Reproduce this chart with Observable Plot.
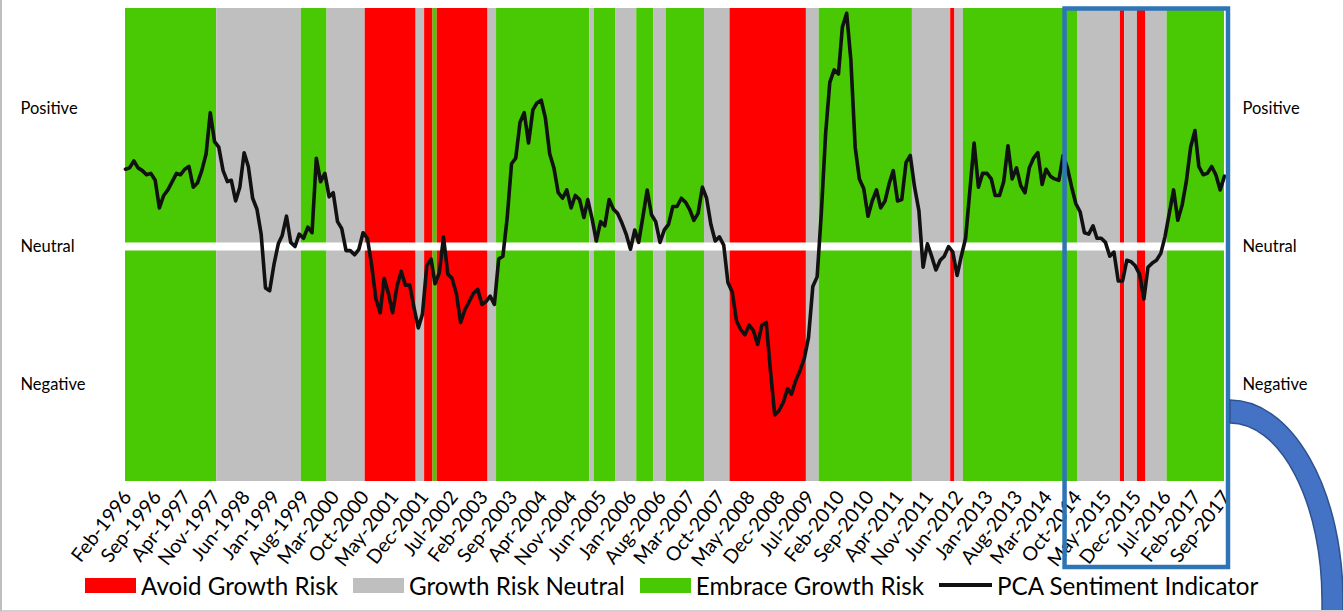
<!DOCTYPE html>
<html>
<head>
<meta charset="utf-8">
<script src="https://cdn.jsdelivr.net/npm/d3@7"></script>
<script src="https://cdn.jsdelivr.net/npm/@observablehq/plot@0.6"></script>
<style>
  html, body { margin: 0; padding: 0; background: #fff; }
  #wrap { position: relative; width: 1343px; height: 612px; overflow: hidden; font-family: Lato, "Open Sans", sans-serif; }
  #chart { position: absolute; left: 0; top: 0; }
  #legend { position: absolute; left: 85px; top: 571px; height: 28px; display: flex; align-items: center; gap: 15px; font-size: 24.2px; color: #000; white-space: nowrap; }
  .item { display: flex; align-items: center; gap: 5px; }
  #deco { position: absolute; left: 0; top: 0; pointer-events: none; }
  #border { position: absolute; left: 0; top: 0; width: 1343px; height: 612px; box-sizing: border-box; border-left: 2px solid #bfbfbf; border-bottom: 2px solid #d0d0d0; pointer-events: none; }
</style>
</head>
<body>
<div id="wrap">
  <div id="chart"></div>
  <div id="legend"></div>
  <svg id="deco" width="1343" height="612"></svg>
  <div id="border"></div>
</div>
<script>
// ---------- data ----------
const startMonth = "Feb-1996";

// PCA sentiment indicator, monthly from Feb-1996 to Sep-2017 (0 = neutral, +1 ≈ positive, -1 ≈ negative)
const sentiment = [
  0.56,0.57,0.62,0.57,0.55,0.52,0.53,0.48,0.28,0.37,
  0.41,0.47,0.53,0.52,0.56,0.58,0.43,0.46,0.55,0.67,
  0.97,0.76,0.72,0.55,0.47,0.48,0.33,0.43,0.68,0.58,
  0.35,0.27,0.09,-0.30,-0.32,-0.13,0.02,0.08,0.22,0.03,
  0.00,0.09,0.06,0.14,0.10,0.64,0.47,0.53,0.36,0.39,
  0.18,0.13,-0.03,-0.03,-0.06,-0.02,0.10,0.06,-0.13,-0.38,
  -0.48,-0.23,-0.34,-0.48,-0.29,-0.18,-0.28,-0.28,-0.44,-0.59,
  -0.49,-0.14,-0.09,-0.27,-0.19,0.07,-0.20,-0.23,-0.34,-0.55,
  -0.46,-0.40,-0.34,-0.31,-0.42,-0.40,-0.36,-0.42,-0.09,-0.07,
  0.21,0.60,0.64,0.90,0.97,0.75,0.99,1.04,1.06,0.93,
  0.67,0.57,0.39,0.35,0.41,0.28,0.37,0.34,0.21,0.34,
  0.20,0.04,0.18,0.15,0.34,0.27,0.24,0.17,0.09,-0.02,
  0.12,0.03,0.22,0.41,0.23,0.18,0.03,0.12,0.16,0.29,
  0.29,0.35,0.32,0.27,0.19,0.24,0.43,0.35,0.16,0.04,
  0.07,0.01,-0.26,-0.33,-0.54,-0.60,-0.64,-0.57,-0.61,-0.71,
  -0.57,-0.55,-0.90,-1.22,-1.19,-1.13,-1.03,-1.07,-0.97,-0.90,
  -0.81,-0.66,-0.29,-0.22,0.24,0.82,1.19,1.28,1.25,1.59,
  1.69,1.35,0.72,0.49,0.42,0.22,0.33,0.41,0.28,0.33,
  0.46,0.55,0.33,0.34,0.61,0.66,0.43,0.26,-0.15,0.02,
  -0.07,-0.17,-0.10,-0.07,0.00,-0.04,-0.21,-0.07,0.06,0.41,
  0.75,0.43,0.53,0.53,0.49,0.37,0.37,0.47,0.73,0.49,
  0.57,0.44,0.39,0.57,0.64,0.68,0.45,0.56,0.51,0.49,
  0.48,0.66,0.57,0.43,0.31,0.25,0.10,0.09,0.15,0.06,
  0.06,0.03,-0.07,-0.04,-0.25,-0.25,-0.10,-0.11,-0.14,-0.20,
  -0.38,-0.15,-0.12,-0.10,-0.05,0.07,0.24,0.41,0.19,0.30,
  0.47,0.72,0.84,0.58,0.52,0.53,0.58,0.52,0.41,0.51
];

// regime periods (first month of each run) and the regime of that run
const regimeStart = ["Feb-1996","Dec-1997","Aug-1999","Feb-2000","Nov-2000","Nov-2001","Jan-2002","Mar-2002","Apr-2002","Apr-2003","Jun-2003","Apr-2005","May-2005","Oct-2005","Mar-2006","Jul-2006","Oct-2006","Jul-2007","Jan-2008","Jul-2009","Oct-2009","Aug-2011","May-2012","Jun-2012","Aug-2012","Nov-2014","Sep-2015","Oct-2015","Jan-2016","Mar-2016","Aug-2016"];
const regimeType  = ["E","N","E","N","A","N","A","E","A","N","E","N","E","N","E","N","E","N","A","N","E","N","A","N","E","N","A","N","A","N","E"];

const regimeCodes  = ["A","N","E"];
const regimeNames  = ["Avoid Growth Risk","Growth Risk Neutral","Embrace Growth Risk"];
const regimeColors = ["#ff0000","#bfbfbf","#48c904"];
const lineName = "PCA Sentiment Indicator";

const tickLabels = ["Feb-1996","Sep-1996","Apr-1997","Nov-1997","Jun-1998","Jan-1999","Aug-1999","Mar-2000","Oct-2000","May-2001","Dec-2001","Jul-2002","Feb-2003","Sep-2003","Apr-2004","Nov-2004","Jun-2005","Jan-2006","Aug-2006","Mar-2007","Oct-2007","May-2008","Dec-2008","Jul-2009","Feb-2010","Sep-2010","Apr-2011","Nov-2011","Jun-2012","Jan-2013","Aug-2013","Mar-2014","Oct-2014","May-2015","Dec-2015","Jul-2016","Feb-2017","Sep-2017"];

const levelValues = [-1, 0, 1];
const levelLabels = ["Negative","Neutral","Positive"];

const highlight = ["Jul-2014","Sep-2017"];

// ---------- build ----------
const parse = d3.utcParse("%b-%Y");
const t0 = parse(startMonth);
const series = sentiment.map((v, i) => ({date: d3.utcMonth.offset(t0, i), value: v}));
const lastDate = series[series.length - 1].date;
const mid = (a, b) => new Date((a.getTime() + b.getTime()) / 2);
const bands = regimeStart.map((s, k) => {
  const d = parse(s);
  const next = k + 1 < regimeStart.length ? parse(regimeStart[k + 1]) : d3.utcMonth.offset(lastDate, 1);
  return {
    x1: k === 0 ? d : mid(d3.utcMonth.offset(d, -1), d),
    x2: mid(d3.utcMonth.offset(next, -1), next),
    regime: regimeType[k]
  };
});
const levelFmt = d => levelLabels[levelValues.indexOf(d)];

const chart = Plot.plot({
  width: 1343,
  height: 570,
  marginLeft: 125,
  marginRight: 119,
  marginTop: 8,
  marginBottom: 89,
  style: {fontFamily: "Lato, 'Open Sans', sans-serif", background: "transparent", color: "#000"},
  x: {type: "utc", domain: [t0, lastDate]},
  y: {domain: [-1.703, 1.725]},
  color: {domain: regimeCodes, range: regimeColors},
  marks: [
    Plot.rect(bands, {x1: "x1", x2: "x2", fill: "regime", clip: true}),
    Plot.ruleY([0], {stroke: "#ffffff", strokeWidth: 8}),
    Plot.line(series, {x: "date", y: "value", stroke: "#111", strokeWidth: 3.6, strokeLinejoin: "round", strokeLinecap: "round"}),
    Plot.axisX({ticks: tickLabels.map(parse), tickFormat: d3.utcFormat("%b-%Y"), tickRotate: -52, tickSize: 0, tickPadding: 12, dx: 2, fontSize: 19.5, label: null}),
    Plot.axisY({anchor: "left", ticks: levelValues, tickFormat: levelFmt, tickSize: 0, tickPadding: 105, textAnchor: "start", fontSize: 16.5, label: null}),
    Plot.axisY({anchor: "right", ticks: levelValues, tickFormat: levelFmt, tickSize: 0, tickPadding: 18, textAnchor: "start", fontSize: 16.5, label: null}),
    Plot.rect([highlight], {x1: d => parse(d[0]), x2: d => parse(d[1]), fill: "none", stroke: "#2e75b6", strokeWidth: 4.5, insetLeft: 2, insetRight: -4, insetTop: 0.5, insetBottom: -86})
  ]
});
document.getElementById("chart").appendChild(chart);

// legend
const legend = document.getElementById("legend");
const legendItems = regimeNames.map((n, k) => ({label: n, color: regimeColors[k], type: "box"}))
  .concat([{label: lineName, color: "#111", type: "line"}]);
legendItems.forEach(it => {
  const item = document.createElement("div");
  item.className = "item";
  const sw = document.createElement("span");
  sw.style.display = "inline-block";
  sw.style.background = it.color;
  if (it.type === "box") { sw.style.width = "51px"; sw.style.height = "15px"; }
  else { sw.style.width = "53px"; sw.style.height = "4px"; }
  const tx = document.createElement("span");
  tx.textContent = it.label;
  item.appendChild(sw);
  item.appendChild(tx);
  legend.appendChild(item);
});

// callout arc (decoration)
const deco = d3.select("#deco");
deco.append("path")
  .attr("d", "M1230,400 A113,200 0 0 1 1343,600 A113,200 0 0 1 1340,650 L1319,650 A92,177 0 0 0 1322,600 A92,177 0 0 0 1230,423 Z")
  .attr("fill", "#4472c4")
  .attr("stroke", "#2f528f")
  .attr("stroke-width", 1.5);
</script>
</body>
</html>
